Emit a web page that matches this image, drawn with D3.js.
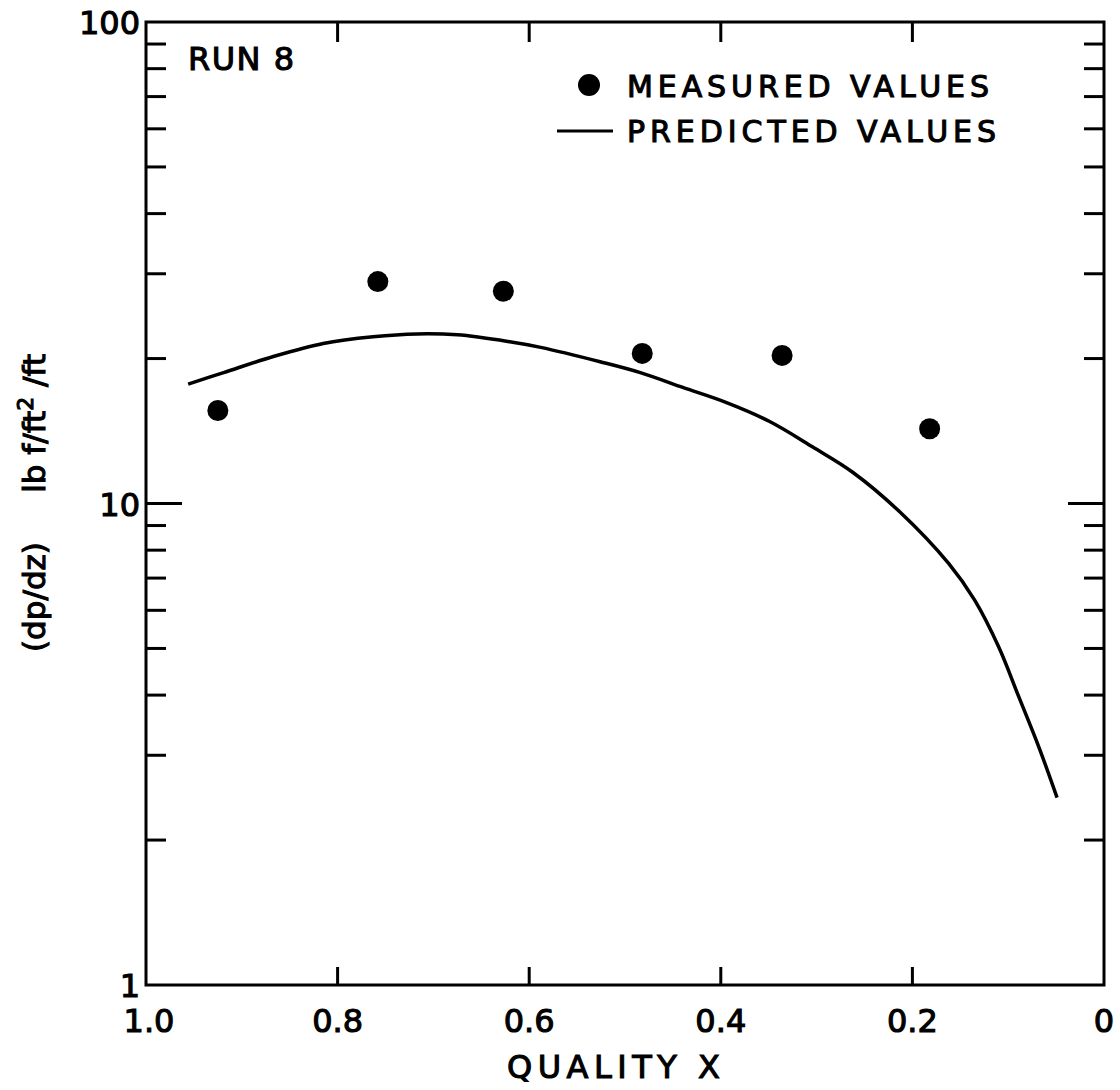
<!DOCTYPE html>
<html>
<head>
<meta charset="utf-8">
<script src="https://cdn.jsdelivr.net/npm/d3@7"></script>
<style>
  body { margin: 0; background: #fff; }
  text { font-family: "DejaVu Sans", sans-serif; fill: #000; stroke: #000; stroke-width: 1.1px; }
</style>
</head>
<body>
<svg id="chart" width="1120" height="1090"></svg>
<script>
// Measured values (quality x, dp/dz)
const measuredX = [0.925, 0.758, 0.627, 0.482, 0.336, 0.182];
const measuredY = [15.6, 28.9, 27.6, 20.5, 20.3, 14.3];

// Predicted curve
const predictedX = [0.956, 0.919, 0.867, 0.815, 0.763, 0.717, 0.675, 0.622, 0.588, 0.526, 0.484, 0.439, 0.394, 0.349, 0.304, 0.262, 0.213, 0.162, 0.135, 0.110, 0.089, 0.068, 0.049];
const predictedY = [17.7, 18.7, 20.2, 21.5, 22.2, 22.5, 22.4, 21.7, 21.1, 19.7, 18.7, 17.4, 16.2, 14.8, 13.1, 11.6, 9.6, 7.5, 6.3, 5.04, 3.97, 3.12, 2.45];

const xTicks = [1.0, 0.8, 0.6, 0.4, 0.2, 0];
const xTickLabels = ["1.0", "0.8", "0.6", "0.4", "0.2", "0"];
const yMajor = [1, 10, 100];
const yMinor = [2, 3, 4, 5, 6, 7, 8, 9, 20, 30, 40, 50, 60, 70, 80, 90];

const plotLeft = 146, plotRight = 1104, plotTop = 22, plotBottom = 985;

const svg = d3.select("#chart");

const x = d3.scaleLinear().domain([1, 0]).range([plotLeft, plotRight]);
const y = d3.scaleLog().domain([1, 100]).range([plotBottom, plotTop]);

// Frame
svg.append("rect")
    .attr("x", plotLeft).attr("y", plotTop)
    .attr("width", plotRight - plotLeft).attr("height", plotBottom - plotTop)
    .attr("fill", "none").attr("stroke", "#000").attr("stroke-width", 3);

// Inward ticks on all four sides
const ticks = svg.append("g").attr("stroke", "#000").attr("stroke-width", 3);

xTicks.filter(d => d > 0 && d < 1).forEach(function (d) {
    ticks.append("line").attr("x1", x(d)).attr("x2", x(d)).attr("y1", plotBottom).attr("y2", plotBottom - 18);
    ticks.append("line").attr("x1", x(d)).attr("x2", x(d)).attr("y1", plotTop).attr("y2", plotTop + 20);
});

yMinor.forEach(function (d) {
    ticks.append("line").attr("x1", plotLeft).attr("x2", plotLeft + 20).attr("y1", y(d)).attr("y2", y(d));
    ticks.append("line").attr("x1", plotRight).attr("x2", plotRight - 20).attr("y1", y(d)).attr("y2", y(d));
});
[10].forEach(function (d) {
    ticks.append("line").attr("x1", plotLeft).attr("x2", plotLeft + 36).attr("y1", y(d)).attr("y2", y(d));
    ticks.append("line").attr("x1", plotRight).attr("x2", plotRight - 36).attr("y1", y(d)).attr("y2", y(d));
});

// Tick labels
svg.append("g").selectAll("text")
    .data(xTicks)
    .join("text")
    .attr("x", (d, i) => x(d) + (i === 0 ? 3 : 0))
    .attr("y", 1032)
    .attr("text-anchor", "middle")
    .attr("font-size", 32)
    .text((d, i) => xTickLabels[i]);

svg.append("g").selectAll("text")
    .data(yMajor)
    .join("text")
    .attr("x", plotLeft - 6)
    .attr("y", d => y(d) + 12)
    .attr("text-anchor", "end")
    .attr("font-size", 32)
    .text(d => d);

// Axis titles
svg.append("text")
    .attr("x", 507).attr("y", 1078)
    .attr("font-size", 32)
    .attr("textLength", 213).attr("lengthAdjust", "spacing")
    .text("QUALITY  X");

svg.append("text")
    .attr("transform", "translate(45,652) rotate(-90)")
    .attr("font-size", 31)
    .html('(dp/dz)&#160;&#160;&#160;&#160;&#160;lb f/ft<tspan dy="-12" font-size="22">2</tspan><tspan dy="12"> /ft</tspan>');

// Predicted curve
const line = d3.line()
    .x(d => x(d[0]))
    .y(d => y(d[1]))
    .curve(d3.curveCatmullRom);

svg.append("path")
    .datum(predictedX.map((d, i) => [d, predictedY[i]]))
    .attr("d", line)
    .attr("fill", "none")
    .attr("stroke", "#000")
    .attr("stroke-width", 3.5);

// Measured points
svg.append("g").selectAll("circle")
    .data(measuredX.map((d, i) => [d, measuredY[i]]))
    .join("circle")
    .attr("cx", d => x(d[0]))
    .attr("cy", d => y(d[1]))
    .attr("r", 10.5)
    .attr("fill", "#000");

// Run label
svg.append("text")
    .attr("x", 188).attr("y", 70)
    .attr("font-size", 32)
    .attr("textLength", 106).attr("lengthAdjust", "spacing")
    .text("RUN 8");

// Legend
svg.append("circle").attr("cx", 589).attr("cy", 85).attr("r", 11).attr("fill", "#000");
svg.append("line")
    .attr("x1", 557).attr("x2", 613).attr("y1", 131).attr("y2", 131)
    .attr("stroke", "#000").attr("stroke-width", 3);
svg.append("text")
    .attr("x", 627).attr("y", 97)
    .attr("font-size", 30)
    .attr("textLength", 362).attr("lengthAdjust", "spacing")
    .text("MEASURED VALUES");
svg.append("text")
    .attr("x", 627).attr("y", 142)
    .attr("font-size", 30)
    .attr("textLength", 369).attr("lengthAdjust", "spacing")
    .text("PREDICTED VALUES");
</script>
</body>
</html>
